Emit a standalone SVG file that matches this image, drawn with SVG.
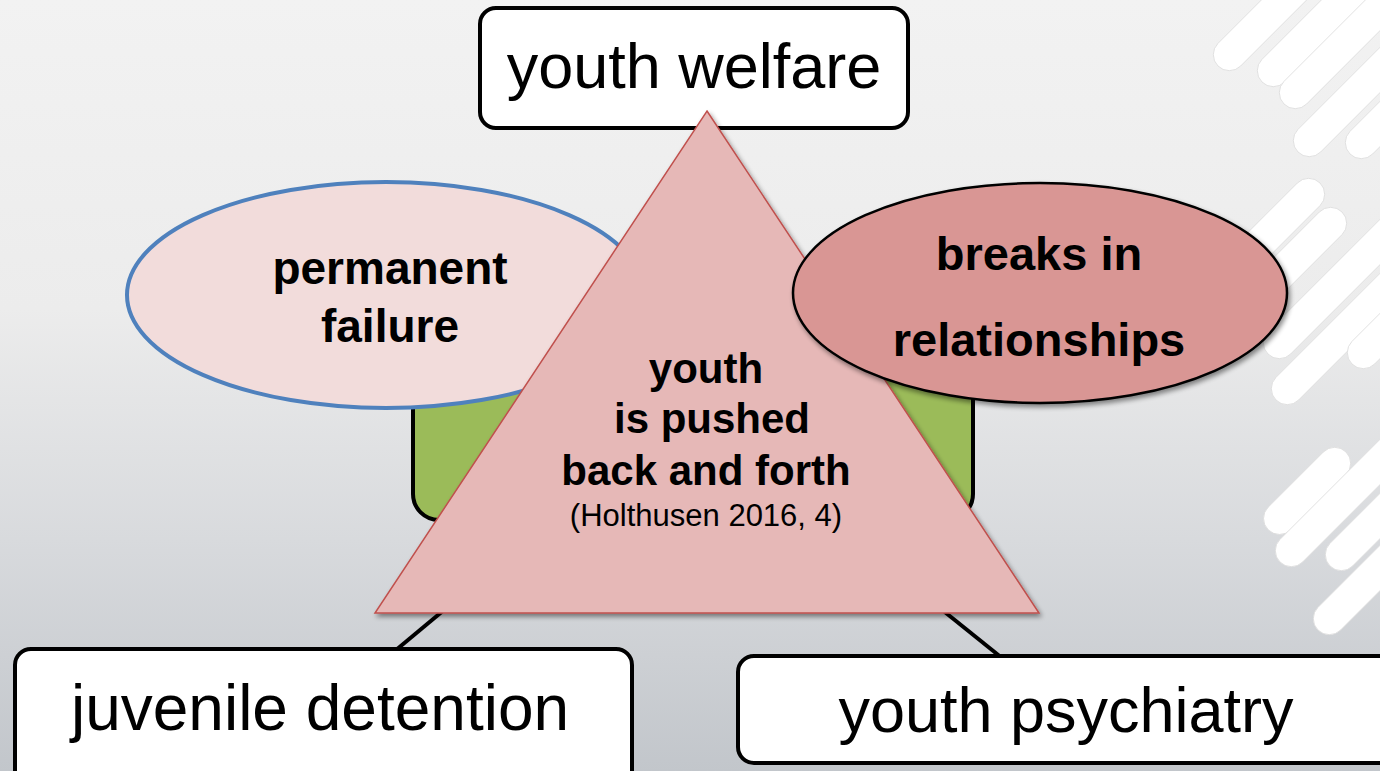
<svg xmlns="http://www.w3.org/2000/svg" width="1380" height="771" viewBox="0 0 1380 771">
<defs>
<linearGradient id="bg" x1="0" y1="0" x2="0" y2="1">
<stop offset="0" stop-color="#f2f2f2"/>
<stop offset="0.4" stop-color="#ececec"/>
<stop offset="0.7" stop-color="#d8dadd"/>
<stop offset="1" stop-color="#c2c6cb"/>
</linearGradient>
<filter id="sh" x="-10%" y="-10%" width="130%" height="130%">
<feGaussianBlur in="SourceAlpha" stdDeviation="2.5"/>
<feOffset dx="2" dy="3" result="b"/>
<feComponentTransfer><feFuncA type="linear" slope="0.45"/></feComponentTransfer>
<feMerge><feMergeNode/><feMergeNode in="SourceGraphic"/></feMerge>
</filter>
<rect id="blade" x="0" y="-16" width="260" height="32" rx="16"/>
<rect id="bladeS" x="0" y="-16" width="110" height="32" rx="16"/>
<style>
.box{fill:#ffffff;stroke:#000;stroke-width:4}
.lbl{font-family:"Liberation Sans",Arial,sans-serif;fill:#000;text-anchor:middle}
.b{font-weight:bold}
.stripes use{fill:#ffffff;stroke:#dcdcdc;stroke-width:0.8}
.conn{stroke:#000;stroke-width:4;fill:none}
</style>
</defs>
<rect x="0" y="0" width="1380" height="771" fill="url(#bg)"/>
<g id="decor" class="stripes">
<use href="#blade" transform="translate(1218,66) rotate(-45)"/>
<use href="#blade" transform="translate(1262,82) rotate(-45)"/>
<use href="#blade" transform="translate(1284,104) rotate(-45)"/>
<use href="#blade" transform="translate(1298,152) rotate(-45)"/>
<use href="#blade" transform="translate(1350,154) rotate(-45)"/>
<use href="#bladeS" transform="translate(1320,183) rotate(135)"/>
<use href="#bladeS" transform="translate(1342,212) rotate(135)"/>
<use href="#blade" transform="translate(1268,354) rotate(-45)"/>
<use href="#blade" transform="translate(1276,400) rotate(-45)"/>
<use href="#blade" transform="translate(1352,364) rotate(-45)"/>
<use href="#bladeS" transform="translate(1346,452) rotate(135)" style="opacity:1"/>
<use href="#blade" transform="translate(1280,562) rotate(-45)"/>
<use href="#blade" transform="translate(1330,566) rotate(-45)"/>
<use href="#blade" transform="translate(1318,630) rotate(-45)"/>
</g>
<g id="connectors">
<line class="conn" x1="396" y1="650" x2="480" y2="580"/>
<line class="conn" x1="1002" y1="658" x2="905" y2="580"/>
</g>
<g id="green-box">
<rect x="413" y="300" width="560" height="220" rx="26" fill="#9bbb59" stroke="#000" stroke-width="4"/>
</g>
<g id="permanent-failure">
<ellipse cx="386" cy="295" rx="259" ry="113" fill="#f2dcdb" stroke="#4f81bd" stroke-width="4"/>
<text class="lbl b" x="390" y="284" font-size="46">permanent</text>
<text class="lbl b" x="390" y="342" font-size="46">failure</text>
</g>
<g id="youth-welfare">
<rect class="box" x="480" y="8" width="428" height="120" rx="16"/>
<text class="lbl" x="694" y="88" font-size="63">youth welfare</text>
</g>
<g id="triangle">
<polygon points="707,111 1039,613 375,613" fill="#e6b8b7" stroke="#c0504d" stroke-width="1.5" filter="url(#sh)"/>
<text class="lbl b" x="706" y="383" font-size="42">youth</text>
<text class="lbl b" x="712" y="433" font-size="42">is pushed</text>
<text class="lbl b" x="706" y="485" font-size="42">back and forth</text>
<text class="lbl" x="706" y="526" font-size="31">(Holthusen 2016, 4)</text>
</g>
<g id="breaks-in-relationships">
<ellipse cx="1040" cy="293" rx="247" ry="110" fill="#d99694" stroke="#000" stroke-width="2.5" filter="url(#sh)"/>
<text class="lbl b" x="1039" y="270" font-size="47">breaks in</text>
<text class="lbl b" x="1039" y="356" font-size="47">relationships</text>
</g>
<g id="juvenile-detention">
<rect class="box" x="15" y="649" width="617" height="140" rx="16"/>
<text class="lbl" x="320" y="730" font-size="64">juvenile detention</text>
</g>
<g id="youth-psychiatry">
<rect class="box" x="738" y="656" width="680" height="107" rx="16"/>
<text class="lbl" x="1066" y="732" font-size="63">youth psychiatry</text>
</g>
</svg>
